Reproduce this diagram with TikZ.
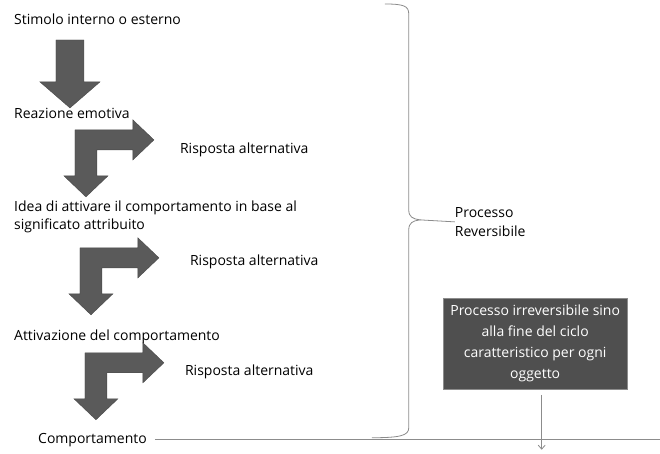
\documentclass[tikz,border=0pt]{standalone}
\usepackage{fontspec}
\setmainfont{Open Sans}
\usetikzlibrary{arrows.meta}
\definecolor{arrowgray}{HTML}{5A5A5A}
\definecolor{boxgray}{HTML}{4F4F4F}
\definecolor{linegray}{HTML}{8C8C8C}
\begin{document}
\begin{tikzpicture}[x=1pt,y=-1pt,
  lbl/.style={anchor=west,inner sep=0pt,font=\fontsize{14pt}{18pt}\selectfont,align=left},
  blockarrow/.style={fill=arrowgray,draw=arrowgray!80!black,line width=0.4pt},
  irrevbox/.style={fill=boxgray,draw=linegray,text=white,align=center,inner sep=2pt,
    minimum width=185,minimum height=91,font=\fontsize{14pt}{21pt}\selectfont},
  thin/.style={draw=linegray,line width=0.8pt}]
\fill [color=white] (0, 0) rectangle (660, 454);

% texts on the left
\node (stimolo) at (14, 19) [lbl] {Stimolo interno o esterno};
\node (reazione) at (14, 114) [lbl] {Reazione emotiva};
\node (idea) at (14, 217) [lbl] {Idea di attivare il comportamento in base al\\significato attribuito};
\node (attivazione) at (14, 337) [lbl] {Attivazione del comportamento};
\node (comport) at (38, 440) [lbl] {Comportamento};
\node (alt1) at (180, 150) [lbl] {Risposta alternativa};
\node (alt2) at (190, 262) [lbl] {Risposta alternativa};
\node (alt3) at (185, 372) [lbl] {Risposta alternativa};

% block arrows
\fill [blockarrow] (56, 40) -- (84, 40) -- (84, 82) -- (100, 82) -- (70, 108) -- (40, 82) -- (56, 82) -- cycle;
\foreach \cx/\cy in {75/130, 80/248, 85/353} {
    \fill [blockarrow, shift={(\cx,\cy)}] (0, 0) -- (58, 0) -- (58, -10) -- (79, 10) -- (58, 30) -- (58, 20)
        -- (22, 20) -- (22, 46) -- (33, 46) -- (11, 67) -- (-11, 46) -- (0, 46) -- cycle;
}

% brace
\coordinate (bracetip) at (420, 220);
\draw [thin] (385, 4) .. controls (404, 4) and (409, 6) .. (409, 14) -- (409, 210)
    .. controls (409, 217) and (413, 219) .. (bracetip)
    .. controls (413, 221) and (409, 223) .. (409, 230) -- (409, 428)
    .. controls (409, 436) and (400, 438) .. (372, 438);
\node (reversibile) at (455, 222) [lbl, font=\fontsize{14pt}{19pt}\selectfont] {Processo\\Reversibile};
\draw [thin] (bracetip) -- (reversibile.west);

% bottom line and box
\coordinate (lineend) at (660, 440);
\draw [thin] (comport.east) ++(8, 0) coordinate (linestart) (linestart) -- (lineend);
\node (irrev) at (535.5, 343.5) [irrevbox] {Processo irreversibile sino\\alla fine del ciclo\\caratteristico per ogni\\oggetto};
\coordinate (arrowend) at (542, 450);
\draw [thin, -{Straight Barb[length=4pt,width=7pt]}] (irrev.south -| arrowend) ++(0, 6) -- (arrowend);
\end{tikzpicture}
\end{document}
